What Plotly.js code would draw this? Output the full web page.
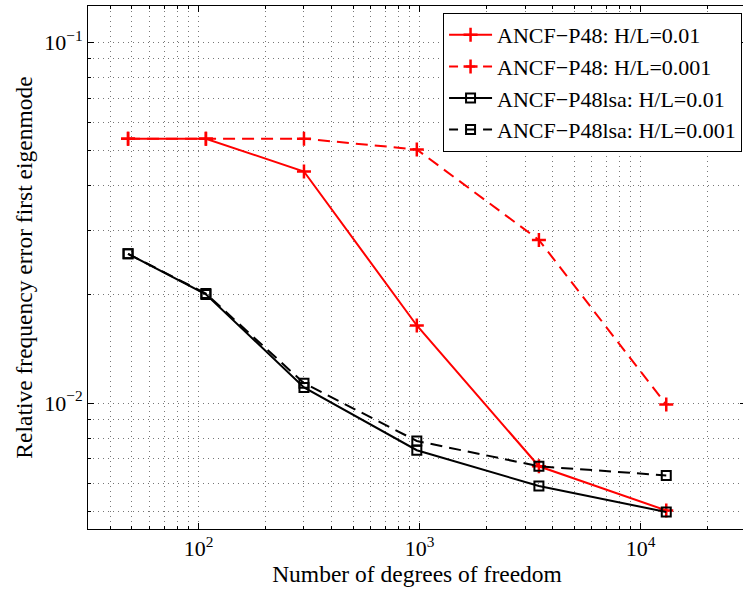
<!DOCTYPE html>
<html>
<head>
<meta charset="utf-8">
<script src="https://cdn.plot.ly/plotly-3.0.1.min.js"></script>
<style>
html,body{margin:0;padding:0;overflow:hidden;background:#fff;}
#chart{width:746px;height:595px;}
</style>
</head>
<body>
<div id="chart"></div>
<script>
// Data
const dof = [48, 108, 300, 972, 3468, 13068];
const p48_hl001 = [0.0540, 0.0540, 0.0438, 0.0164, 0.00668, 0.00504];
const p48_hl0001 = [0.0540, 0.0540, 0.0540, 0.0504, 0.0283, 0.0099];
const lsa_hl001 = [0.0259, 0.0200, 0.01105, 0.00740, 0.00589, 0.00499];
const lsa_hl0001 = [0.0259, 0.0201, 0.01135, 0.00785, 0.00668, 0.00630];

const seriesNames = [
  "ANCF\u2212P48: H/L=0.01",
  "ANCF\u2212P48: H/L=0.001",
  "ANCF\u2212P48lsa: H/L=0.01",
  "ANCF\u2212P48lsa: H/L=0.001"
];

const xMajor = [100, 1000, 10000];
const xMajorText = ["10<sup>2</sup>", "10<sup>3</sup>", "10<sup>4</sup>"];
const xMinor = [40,50,60,70,80,90,200,300,400,500,600,700,800,900,2000,3000,4000,5000,6000,7000,8000,9000,20000];
const yMajor = [0.01, 0.1];
const yMajorText = ["10<sup>\u22122</sup>", "10<sup>\u22121</sup>"];
const yMinor = [0.005,0.006,0.007,0.008,0.009,0.02,0.03,0.04,0.05,0.06,0.07,0.08,0.09];

const FONT = "Liberation Serif, Times New Roman, serif";
const dashPat = "12px,7px";
const legendDash = "9px,8px,9px,8px,9px";

const redMarker = {symbol: "cross-thin-open", size: 10, color: "#ff0000", line: {color: "#ff0000", width: 2.5}};
const blackMarker = {symbol: "square-open", size: 9, color: "#000000", line: {color: "#000000", width: 2}};

const traces = [
  {x: dof, y: p48_hl001, name: seriesNames[0], mode: "lines+markers", legendrank: 1,
   line: {color: "#ff0000", width: 2}, marker: redMarker},
  {x: dof, y: lsa_hl001, name: seriesNames[2], mode: "lines+markers", legendrank: 3,
   line: {color: "#000000", width: 2}, marker: blackMarker},
  {x: dof, y: lsa_hl0001, name: seriesNames[3], mode: "lines+markers", showlegend: false,
   line: {color: "#000000", width: 2, dash: dashPat}, marker: blackMarker},
  {x: dof, y: p48_hl0001, name: seriesNames[1], mode: "lines+markers", showlegend: false,
   line: {color: "#ff0000", width: 2, dash: dashPat}, marker: redMarker},
  // legend-only entries (no data) so the dashed legend samples read "- + -"
  {x: [null], y: [null], name: seriesNames[1], mode: "lines+markers", legendrank: 2,
   line: {color: "#ff0000", width: 2, dash: legendDash}, marker: redMarker, hoverinfo: "skip"},
  {x: [null], y: [null], name: seriesNames[3], mode: "lines+markers", legendrank: 4,
   line: {color: "#000000", width: 2, dash: legendDash}, marker: blackMarker, hoverinfo: "skip"}
];

const gridCommon = {gridcolor: "#777", gridwidth: 1, griddash: "1px,4px"};

const layout = {
  width: 746, height: 595,
  margin: {l: 88, r: 0, t: 6, b: 66},
  paper_bgcolor: "#fff", plot_bgcolor: "#fff",
  font: {family: FONT, size: 22, color: "#000"},
  showlegend: true,
  xaxis: {
    type: "log", range: [1.5, 4.477],
    tickmode: "array", tickvals: xMajor, ticktext: xMajorText,
    ticks: "inside", ticklen: 6, tickwidth: 1, tickcolor: "#000",
    showline: true, linecolor: "#000", linewidth: 1, mirror: "allticks",
    showgrid: true, ...gridCommon, zeroline: false,
    minor: {tickvals: xMinor, ticks: "inside", ticklen: 3, tickcolor: "#000", showgrid: true, ...gridCommon},
    tickfont: {family: FONT, size: 22},
    title: {text: "Number of degrees of freedom", font: {family: FONT, size: 23.5}, standoff: 4}
  },
  yaxis: {
    type: "log", range: [-2.349, -0.9],
    tickmode: "array", tickvals: yMajor, ticktext: yMajorText,
    ticks: "inside", ticklen: 6, tickwidth: 1, tickcolor: "#000",
    showline: true, linecolor: "#000", linewidth: 1, mirror: "allticks",
    showgrid: true, ...gridCommon, zeroline: false,
    minor: {tickvals: yMinor, ticks: "inside", ticklen: 3, tickcolor: "#000", showgrid: true, ...gridCommon},
    tickfont: {family: FONT, size: 22},
    title: {text: "Relative frequency error first eigenmode", font: {family: FONT, size: 23.5}, standoff: 4}
  },
  legend: {
    x: 0.994, xanchor: "right", y: 0.9866, yanchor: "top",
    bgcolor: "#fff", bordercolor: "#000", borderwidth: 1,
    font: {family: FONT, size: 22}, tracegroupgap: 0, itemwidth: 43,
    traceorder: "normal"
  }
};

Plotly.newPlot("chart", traces, layout, {staticPlot: true, displayModeBar: false});
</script>
</body>
</html>
